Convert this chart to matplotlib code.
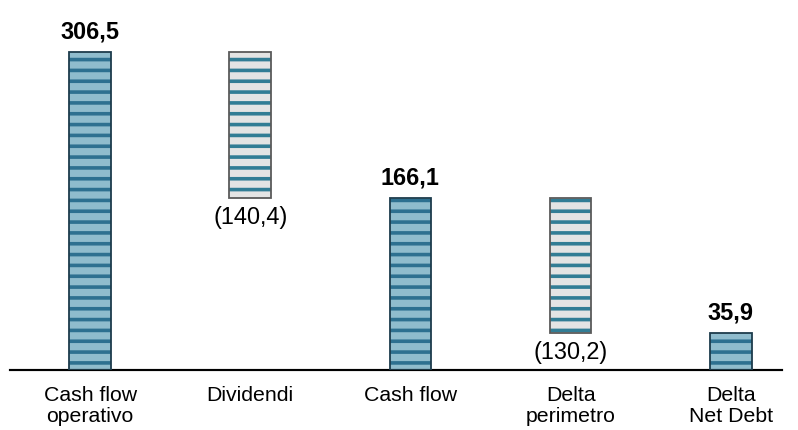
import matplotlib
matplotlib.use("Agg")
import matplotlib.pyplot as plt
import numpy as np

# waterfall data (values in the source use comma decimals)
categories = ["Cash flow\noperativo", "Dividendi", "Cash flow", "Delta\nperimetro", "Delta\nNet Debt"]
bottoms = [0.0, 166.1, 0.0, 35.9, 0.0]
heights = [306.5, 140.4, 166.1, 130.2, 35.9]
is_total = [True, False, True, False, True]
labels = ["306,5", "(140,4)", "166,1", "(130,2)", "35,9"]

plt.rcParams['font.family'] = ['Liberation Sans', 'DejaVu Sans']
plt.rcParams['hatch.linewidth'] = 2.0

dpi = 130
fig = plt.figure(figsize=(798 / dpi, 430 / dpi), dpi=dpi)
ax = fig.add_axes([10 / 798, 60 / 430, 772 / 798, 370 / 430])

x = np.arange(len(categories))
w = 0.26

tot = np.array(is_total)
hb = np.array(heights)
bb = np.array(bottoms)

# totals: blue bars with dark stripes
ax.bar(x[tot], hb[tot], w, bottom=bb[tot], color='#8fbccd', edgecolor='#2d7090',
       linewidth=0, hatch='--', zorder=2)
ax.bar(x[tot], hb[tot], w, bottom=bb[tot], fill=False, edgecolor='#1d3c4c',
       linewidth=1.0, zorder=3)

# deltas: grey floating bars with teal stripes
ax.bar(x[~tot], hb[~tot], w, bottom=bb[~tot], color='#e4e4e4', edgecolor='#327d95',
       linewidth=0, hatch='--', zorder=2)
ax.bar(x[~tot], hb[~tot], w, bottom=bb[~tot], fill=False, edgecolor='#5a5a5a',
       linewidth=1.0, zorder=3)

for i in range(len(categories)):
    if is_total[i]:
        ax.annotate(labels[i], (x[i], bb[i] + hb[i]), xytext=(0, 8), textcoords='offset pixels',
                    ha='center', va='bottom', fontsize=13, fontweight='bold')
    else:
        ax.annotate(labels[i], (x[i], bb[i]), xytext=(0, -8), textcoords='offset pixels',
                    ha='center', va='top', fontsize=13)

ax.set_xlim(-0.5, 4.32)
ax.set_ylim(0, 356.6)
ax.set_xticks(x)
ax.set_xticklabels(categories, fontsize=11.8, linespacing=1.15)
ax.tick_params(axis='x', length=0, pad=9)
ax.set_yticks([])
for s in ['top', 'left', 'right']:
    ax.spines[s].set_visible(False)
ax.spines['bottom'].set_linewidth(1.2)
ax.patch.set_alpha(0)

fig.savefig("out.png", dpi=dpi)
